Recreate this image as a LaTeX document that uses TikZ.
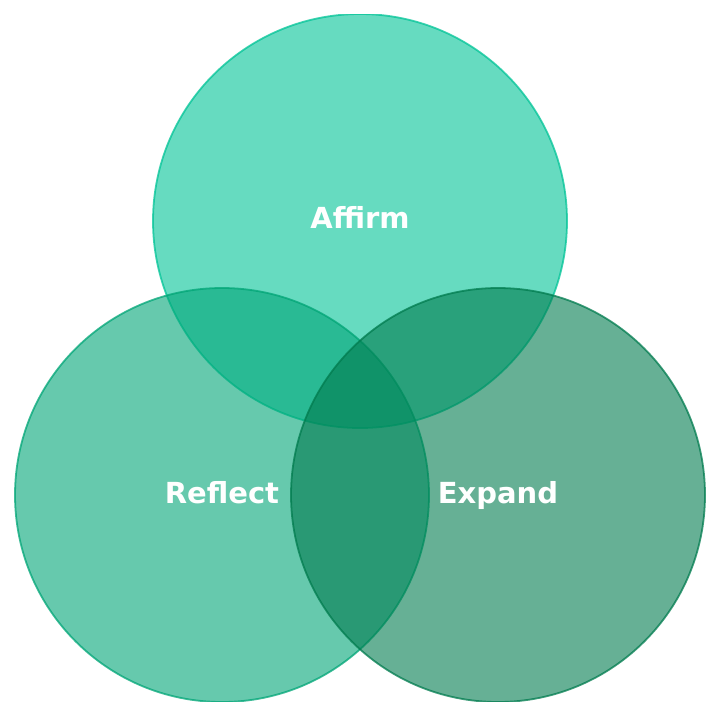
\documentclass[tikz,border=0pt]{standalone}
\usepackage{fontspec}
\setmainfont{DejaVu Sans}
\definecolor{ctop}{HTML}{00C396}
\definecolor{cleft}{HTML}{00A576}
\definecolor{cright}{HTML}{007B4E}
\tikzset{
  venn/.style={circle, minimum size=414pt, inner sep=0pt, line width=1.8pt, fill opacity=0.6, draw opacity=0.75},
  lbl/.style={text=white, anchor=base, inner sep=0pt, font=\fontsize{29}{34}\selectfont\bfseries}
}
\begin{document}
\begin{tikzpicture}[x=1pt,y=-1pt]
\useasboundingbox (0,0) rectangle (720,716);
\begin{scope}
\clip (14,14.5) rectangle (706,701);
\node[venn, fill=ctop, draw=ctop] (top) at (360,221) {};
\node[venn, fill=cleft, draw=cleft] (left) at (222,495) {};
\node[venn, fill=cright, draw=cright] (right) at (498,495) {};
\end{scope}
\node[lbl] (ta) at (360,228.5) {Affirm};
\node[lbl] (tb) at (222,503.5) {Reflect};
\node[lbl] (tc) at (498,503.5) {Expand};
\end{tikzpicture}
\end{document}
